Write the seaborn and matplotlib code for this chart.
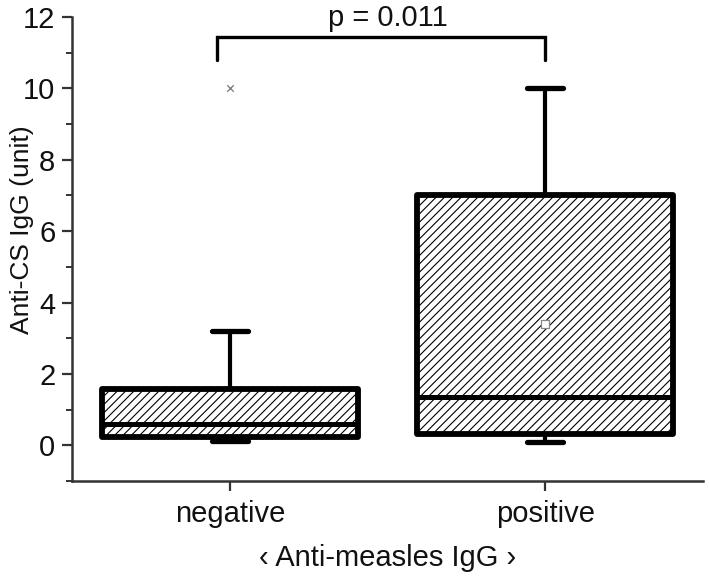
import numpy as np
import pandas as pd
import seaborn as sns
import matplotlib
matplotlib.use('Agg')
import matplotlib.pyplot as plt
from matplotlib.ticker import MultipleLocator

# -----------------------------------------------
# Data
# -----------------------------------------------
groups = ['negative', 'positive']
q1 = [0.22, 0.31]
median = [0.60, 1.36]
q3 = [1.59, 7.00]
whisker_low = [0.12, 0.10]
whisker_high = [3.20, 10.00]
outlier_group = ['negative']
outlier_value = [10.0]
mean_group = ['positive']
mean_value = [3.41]
p_text = 'p = 0.011'
bracket_groups = ['negative', 'positive']
bracket_y = 11.45
bracket_drop = 0.65

# -----------------------------------------------
# Style
# -----------------------------------------------
sns.set_style('ticks')
plt.rcParams['font.family'] = ['Liberation Sans', 'DejaVu Sans']
plt.rcParams['hatch.linewidth'] = 0.8
plt.rcParams['hatch.color'] = '#222222'

fig = plt.figure(figsize=(7.09, 5.78), dpi=100)
ax = fig.add_axes([0.1016, 0.1678, 0.8899, 0.8028])

pos = {g: i for i, g in enumerate(groups)}

stats = []
for i, g in enumerate(groups):
    stats.append({'label': g, 'q1': q1[i], 'med': median[i], 'q3': q3[i],
                  'whislo': whisker_low[i], 'whishi': whisker_high[i], 'fliers': []})

bp = ax.bxp(stats, positions=[pos[g] for g in groups], widths=0.81, capwidths=0.115,
            patch_artist=True, showfliers=False, manage_ticks=False,
            boxprops=dict(facecolor='white', edgecolor='black', linewidth=4.2, hatch='////'),
            medianprops=dict(color='black', linewidth=3.6, solid_capstyle='butt'),
            whiskerprops=dict(color='black', linewidth=3.0),
            capprops=dict(color='black', linewidth=3.8, solid_capstyle='round'))
for b in bp['boxes']:
    b.set_joinstyle('round')

out = pd.DataFrame({'x': [pos[g] for g in outlier_group], 'y': outlier_value})
sns.scatterplot(data=out, x='x', y='y', marker='x', s=22, color='#777777', linewidth=0.9, ax=ax, zorder=5)
mean_df = pd.DataFrame({'x': [pos[g] for g in mean_group], 'y': mean_value})
sns.scatterplot(data=mean_df, x='x', y='y', marker='s', s=26, color='white', edgecolor='#888888',
                linewidth=0.9, ax=ax, zorder=5)

# significance bracket
x0 = pos[bracket_groups[0]] - 0.04
x1 = pos[bracket_groups[1]]
ax.plot([x0, x0, x1, x1], [bracket_y - bracket_drop, bracket_y, bracket_y, bracket_y - bracket_drop],
        color='black', linewidth=2.4, solid_capstyle='round', solid_joinstyle='miter', clip_on=False)
ax.text((x0 + x1) / 2 + 0.02, bracket_y + 0.12, p_text, ha='center', va='bottom', fontsize=21, color='#111111')

# axes
ax.set_xlim(-0.5, 1.5)
ax.set_ylim(-1, 12)
ax.set_xticks([pos[g] for g in groups])
ax.set_xticklabels(groups)
ax.yaxis.set_major_locator(MultipleLocator(2))
ax.yaxis.set_minor_locator(MultipleLocator(1))
ax.set_yticks(range(0, 13, 2))
ax.tick_params(axis='both', which='major', direction='out', length=7, width=1.6, color='#333333',
               labelsize=21, labelcolor='#111111', pad=5)
ax.tick_params(axis='x', which='major', pad=7)
ax.tick_params(axis='y', which='minor', direction='out', length=4.5, width=1.4, color='#333333')
sns.despine(ax=ax)
for s in ['left', 'bottom']:
    ax.spines[s].set_linewidth(1.8)
    ax.spines[s].set_color('#333333')

ax.set_xlabel('\u2039 Anti-measles IgG \u203a', fontsize=21, color='#111111', labelpad=11)
ax.set_ylabel('Anti-CS IgG (unit)', fontsize=19, color='#111111')
ax.yaxis.set_label_coords(-0.060, 0.541)

fig.savefig('out.png', dpi=100)
